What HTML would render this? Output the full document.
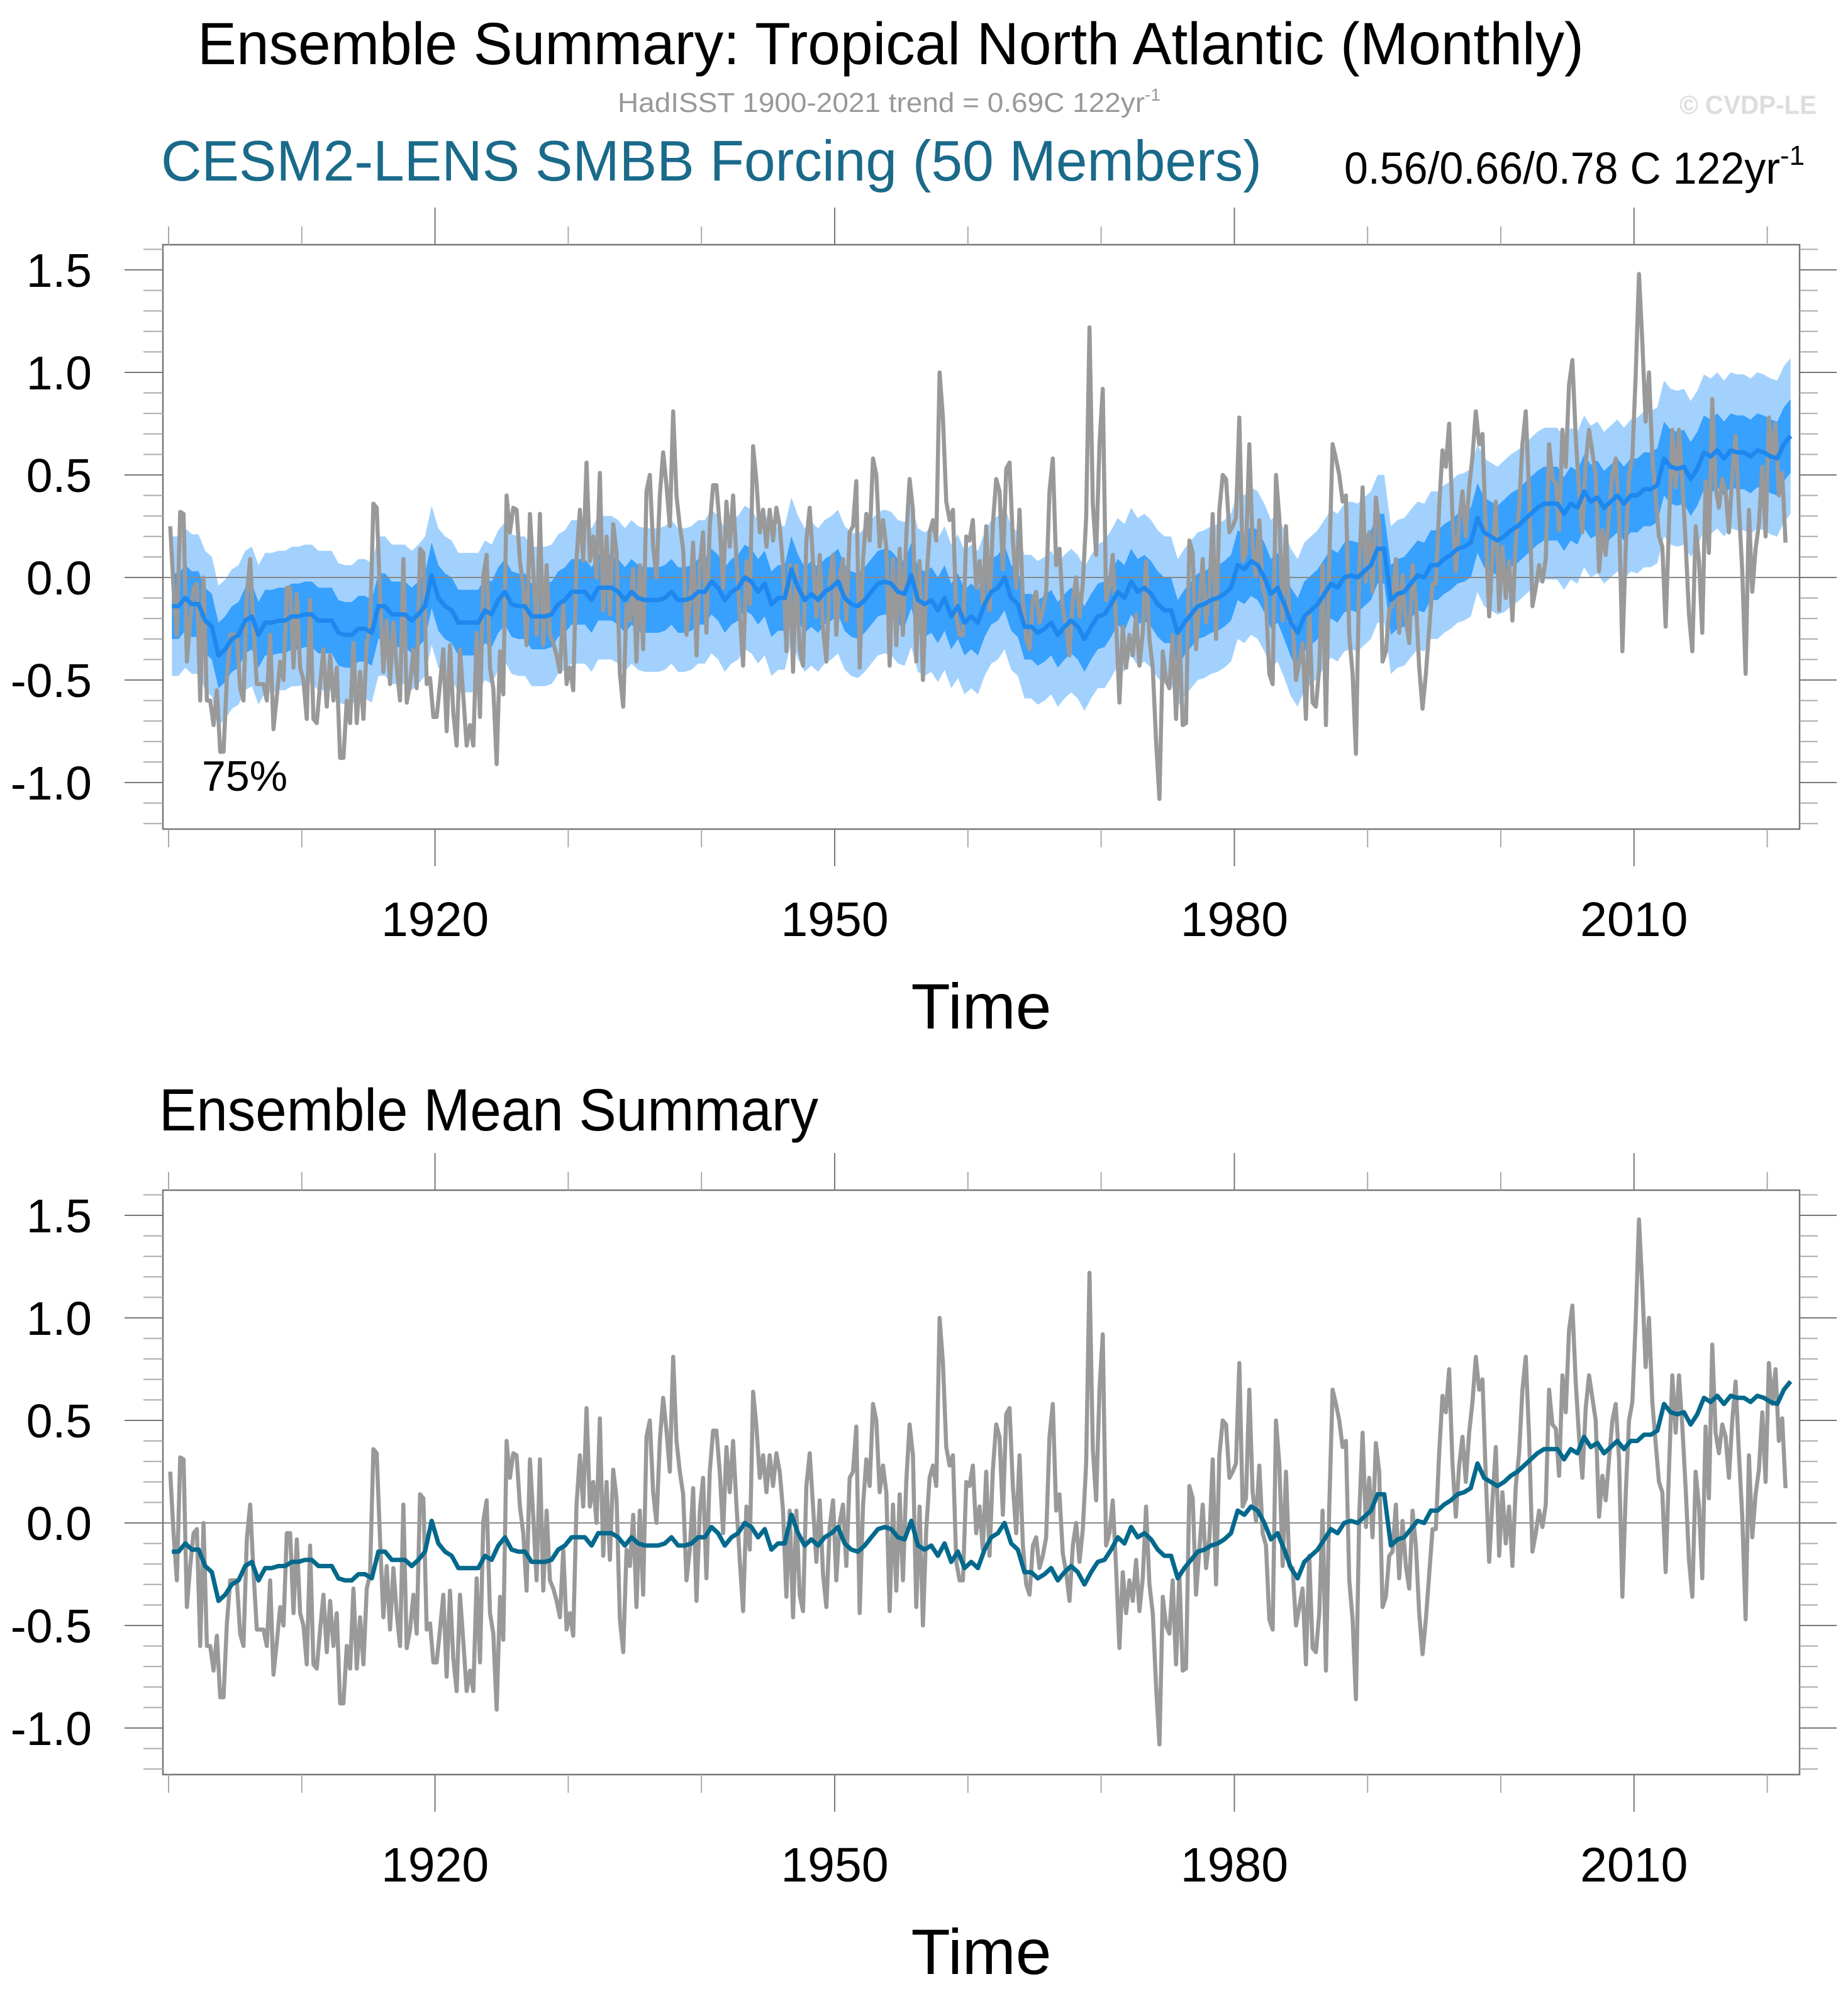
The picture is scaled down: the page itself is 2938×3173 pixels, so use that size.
<!DOCTYPE html>
<html><head><meta charset="utf-8"><style>
html,body{margin:0;padding:0;background:#fff;}
svg{display:block;font-family:"Liberation Sans",Arial,sans-serif;}
</style></head><body>
<svg id="chart" xmlns="http://www.w3.org/2000/svg" width="2938" height="3173" viewBox="0 0 2938 3173">
<rect width="2938" height="3173" fill="#fff"/>
<text x="314" y="102" font-size="95" textLength="2204" lengthAdjust="spacingAndGlyphs" fill="#000">Ensemble Summary: Tropical North Atlantic (Monthly)</text>
<text x="982" y="178" font-size="44" fill="#999"><tspan textLength="838" lengthAdjust="spacingAndGlyphs">HadISST 1900-2021 trend = 0.69C 122yr</tspan><tspan font-size="28" dy="-18">-1</tspan></text>
<text x="2670" y="181" font-size="42" font-weight="bold" fill="#ddd" textLength="218" lengthAdjust="spacingAndGlyphs">© CVDP-LE</text>
<text x="256" y="287" font-size="91" fill="#1a6a8a" textLength="1750" lengthAdjust="spacingAndGlyphs">CESM2-LENS SMBB Forcing (50 Members)</text>
<text x="2137" y="292" font-size="71" fill="#000"><tspan textLength="693" lengthAdjust="spacingAndGlyphs">0.56/0.66/0.78 C 122yr</tspan><tspan font-size="44" dy="-30">-1</tspan></text>
<text x="321" y="1257" font-size="68" fill="#000">75%</text>
<text x="1560" y="1635" font-size="102" text-anchor="middle" fill="#000">Time</text>
<text x="253" y="1797" font-size="95" fill="#000" textLength="1048" lengthAdjust="spacingAndGlyphs">Ensemble Mean Summary</text>
<text x="1560" y="3138" font-size="102" text-anchor="middle" fill="#000">Time</text>
<g id="layer"></g>
</svg>
<script>
// Observed HadISST quarterly values (1900 Q1 ...)
const obsValues = [
0.25,-0.05,-0.28,0.32, 0.31,-0.41,-0.21,-0.05, -0.03,-0.60,0.0,-0.60, -0.60,-0.72,-0.55,-0.85, -0.85,-0.49,-0.28,-0.28,
-0.28,-0.54,-0.60,-0.08, 0.09,-0.24,-0.52,-0.52, -0.52,-0.60,-0.28,-0.74, -0.58,-0.41,-0.50,-0.05, -0.05,-0.44,-0.08,-0.44,
-0.50,-0.69,-0.11,-0.69, -0.71,-0.52,-0.35,-0.63, -0.38,-0.60,-0.44,-0.88, -0.88,-0.60,-0.71,-0.32, -0.71,-0.46,-0.69,-0.32,
-0.25,0.36,0.34,-0.08, -0.46,-0.21,-0.52,-0.22, -0.44,-0.60,0.09,-0.61, -0.52,-0.35,-0.54,0.14, 0.12,-0.52,-0.49,-0.68,
-0.68,-0.52,-0.35,-0.75, -0.33,-0.66,-0.82,-0.35, -0.58,-0.82,-0.72,-0.82, -0.27,-0.68,0.01,0.11, -0.44,-0.54,-0.91,-0.36,
-0.57,0.40,0.22,0.34, 0.33,0.08,-0.05,-0.33, 0.31,0.03,-0.28,0.31, -0.33,0.06,-0.28,-0.32, -0.38,-0.46,-0.13,-0.52,
-0.44,-0.55,0.09,0.33, 0.08,0.56,0.08,0.20, 0.0,0.51,-0.16,0.20, -0.18,0.26,0.12,-0.47, -0.63,-0.13,-0.21,0.04,
-0.41,0.06,-0.35,0.42, 0.50,0.15,0.0,0.40, 0.61,0.45,0.25,0.81, 0.40,0.25,0.14,-0.28, -0.13,0.17,-0.38,0.06,
0.22,-0.27,0.25,0.45, 0.45,0.25,-0.05,0.37, 0.15,0.40,0.09,-0.18, -0.43,0.08,-0.13,0.64, 0.47,0.22,0.33,0.15,
0.33,0.18,0.34,0.25, 0.06,-0.36,0.06,-0.46, 0.06,-0.35,-0.43,0.18, 0.34,0.08,-0.19,0.11, -0.25,-0.41,-0.02,0.11,
-0.28,0.0,0.09,-0.21, 0.22,0.25,0.47,-0.44, 0.08,0.31,0.18,0.58, 0.50,0.15,0.28,0.15, -0.43,0.09,-0.33,0.14,
-0.28,0.20,0.48,0.33, -0.41,0.08,-0.50,-0.03, 0.22,0.28,0.18,1.0, 0.78,0.37,0.28,0.33, -0.19,-0.28,-0.28,0.20,
0.18,0.28,-0.05,0.08, -0.13,0.25,-0.16,0.26, 0.48,0.42,0.04,0.53, 0.56,0.18,-0.05,0.33, -0.11,-0.30,-0.35,-0.11,
-0.07,-0.22,-0.16,-0.07, 0.42,0.58,0.06,0.14, -0.15,-0.24,-0.38,-0.11, 0.0,-0.19,-0.03,0.29, 1.22,0.36,0.11,0.65,
0.92,-0.11,-0.05,0.11, -0.22,-0.61,-0.24,-0.44, -0.28,-0.38,-0.18,-0.43, -0.27,0.08,-0.30,-0.44, -0.80,-1.08,-0.36,-0.50,
-0.54,-0.28,-0.69,-0.25, -0.72,-0.71,0.18,0.12, -0.35,-0.13,0.09,-0.22, -0.08,0.31,-0.30,0.33, 0.50,0.48,0.22,0.25,
0.29,0.78,0.08,0.12, 0.65,0.15,0.01,0.28, -0.05,-0.11,-0.47,-0.52, 0.50,0.29,-0.21,0.25, -0.21,-0.22,-0.50,-0.41,
-0.32,-0.69,-0.16,-0.61, -0.63,-0.44,0.06,-0.72, 0.08,0.65,0.58,0.50, 0.37,0.40,-0.28,-0.47, -0.86,0.04,0.44,-0.02,
0.22,-0.07,0.39,0.25, -0.41,-0.36,-0.16,-0.14, 0.09,-0.27,0.01,-0.21, -0.32,0.06,-0.11,-0.44, -0.64,-0.47,-0.25,-0.03,
-0.03,0.34,0.62,0.54, 0.75,0.29,0.03,0.28, 0.42,0.20,0.44,0.59, 0.81,0.65,0.70,0.22, -0.19,0.11,0.37,-0.16,
0.15,-0.10,0.08,-0.21, 0.18,0.34,0.65,0.81, 0.42,-0.14,-0.05,0.06, -0.02,0.09,0.65,0.48, 0.46,0.23,0.72,0.54,
0.94,1.06,0.69,0.42, 0.22,0.56,0.72,0.61, 0.50,0.03,0.23,0.11, 0.31,0.50,0.58,0.31, -0.36,0.14,0.50,0.59,
0.98,1.48,1.15,0.76, 1.0,0.59,0.39,0.20, 0.15,-0.24,0.26,0.72, 0.44,0.72,0.47,0.17, -0.18,-0.36,0.25,0.08,
-0.27,0.47,0.12,0.87, 0.44,0.34,0.48,0.42, 0.22,0.50,0.69,0.34, 0.03,-0.47,0.33,-0.07, 0.14,0.26,0.54,0.20,
0.78,0.58,0.75,0.40, 0.51,0.17
];
// Ensemble mean, half-yearly values (1900 H1 ...)
const meanValues = [
-0.14,-0.14,-0.10,-0.13,-0.13,-0.21,-0.24,-0.38,-0.35,-0.30,-0.28,-0.21,-0.19,-0.28,-0.22,-0.22,-0.21,-0.21,-0.19,-0.19,
-0.18,-0.18,-0.21,-0.21,-0.21,-0.27,-0.28,-0.28,-0.25,-0.25,-0.27,-0.14,-0.14,-0.18,-0.18,-0.18,-0.21,-0.18,-0.14,0.01,
-0.10,-0.14,-0.16,-0.22,-0.22,-0.22,-0.22,-0.16,-0.18,-0.11,-0.07,-0.13,-0.14,-0.14,-0.19,-0.19,-0.19,-0.18,-0.13,-0.11,
-0.07,-0.07,-0.07,-0.11,-0.05,-0.05,-0.05,-0.07,-0.11,-0.07,-0.10,-0.11,-0.11,-0.11,-0.10,-0.07,-0.11,-0.11,-0.10,-0.07,
-0.07,-0.02,-0.05,-0.11,-0.07,-0.05,0.0,-0.02,-0.07,-0.03,-0.13,-0.10,-0.10,0.04,-0.05,-0.11,-0.08,-0.11,-0.07,-0.05,
-0.02,-0.10,-0.13,-0.14,-0.11,-0.07,-0.03,-0.02,-0.03,-0.07,-0.08,0.01,-0.11,-0.13,-0.11,-0.16,-0.10,-0.19,-0.14,-0.22,
-0.19,-0.22,-0.13,-0.07,-0.05,0.0,-0.10,-0.13,-0.24,-0.24,-0.27,-0.25,-0.22,-0.28,-0.24,-0.21,-0.24,-0.30,-0.24,-0.19,
-0.18,-0.13,-0.07,-0.10,-0.02,-0.07,-0.05,-0.08,-0.13,-0.16,-0.16,-0.27,-0.22,-0.18,-0.14,-0.13,-0.11,-0.10,-0.08,-0.05,
0.06,0.04,0.08,0.06,0.0,-0.08,-0.05,-0.13,-0.22,-0.27,-0.19,-0.16,-0.13,-0.08,-0.03,-0.05,0.0,0.01,0.0,0.03,
0.06,0.14,0.14,-0.11,-0.08,-0.07,-0.03,0.01,0.0,0.06,0.06,0.09,0.11,0.14,0.15,0.17,0.29,0.22,0.20,0.18,
0.20,0.23,0.25,0.28,0.31,0.34,0.36,0.36,0.36,0.31,0.36,0.34,0.42,0.37,0.39,0.34,0.37,0.40,0.36,0.40,
0.40,0.43,0.43,0.45,0.58,0.54,0.53,0.54,0.48,0.53,0.61,0.59,0.62,0.58,0.62,0.61,0.61,0.59,0.62,0.61,
0.59,0.58,0.65,0.69
];
// Ensemble spread half-widths per decade (1900s ... 2020s)
const innerHalf = [0.16,0.16,0.16,0.16,0.16,0.16,0.16,0.16,0.17,0.17,0.18,0.18,0.18];
const outerHalf = [0.34,0.34,0.34,0.35,0.35,0.35,0.35,0.36,0.36,0.36,0.37,0.38,0.38];
const yTickLabels = ["-1.0","-0.5","0.0","0.5","1.0","1.5"];
const yTickValues = [-1.0,-0.5,0.0,0.5,1.0,1.5];
const xTickLabels = ["1920","1950","1980","2010"];
const xTickYears = [1920,1950,1980,2010];

const NS="http://www.w3.org/2000/svg";
const layer=document.getElementById('layer');
const X0=268, PXYR=21.18, LEFT=259, RIGHT=2861;
function xOf(yr){return X0+(yr-1900)*PXYR;}
function mk(tag,attrs,parent){const e=document.createElementNS(NS,tag);for(const k in attrs)e.setAttribute(k,attrs[k]);(parent||layer).appendChild(e);return e;}
function obsYear(i){return 1900+i*0.25+0.125;}
function meanYear(i){return 1900+i*0.5+0.25;}
function halfAt(arr,yr){return arr[Math.min(arr.length-1,Math.floor((yr-1900)/10))];}

function drawPlot(off, withBands, meanColor, idx){
  const top=389+off, bot=1318+off, y0=918+off, PPU=326;
  const yOf=v=>y0-v*PPU;
  const g=mk('g',{});
  
  
  const cid='clip'+idx;
  const cp=mk('clipPath',{id:cid},g); mk('rect',{x:LEFT,y:top,width:RIGHT-LEFT,height:bot-top},cp);
  const dg=mk('g',{'clip-path':'url(#'+cid+')'},g);
  if(withBands){
    const up=[],lo=[],iu=[],il=[];
    meanValues.forEach((m,i)=>{const yr=meanYear(i);const x=xOf(yr).toFixed(1);
      up.push(x+','+yOf(m+halfAt(outerHalf,yr)).toFixed(1));lo.unshift(x+','+yOf(m-halfAt(outerHalf,yr)).toFixed(1));
      iu.push(x+','+yOf(m+halfAt(innerHalf,yr)).toFixed(1));il.unshift(x+','+yOf(m-halfAt(innerHalf,yr)).toFixed(1));});
    const ob=mk('polygon',{points:up.concat(lo).join(' '),fill:'#a2d1fd'},dg);
    
    
    const ib=mk('polygon',{points:iu.concat(il).join(' '),fill:'#38a0fd'},dg);
    
    
  }
  const zl=mk('line',{x1:LEFT,x2:RIGHT,y1:y0,y2:y0,stroke:'#888','stroke-width':2},dg);
  
  
  const op=obsValues.map((v,i)=>xOf(obsYear(i)).toFixed(1)+','+yOf(v).toFixed(1)).join(' ');
  const ol=mk('polyline',{points:op,fill:'none',stroke:'#999','stroke-width':6.5,'stroke-linejoin':'round'},dg);
  
  
  const mp=meanValues.map((v,i)=>xOf(meanYear(i)).toFixed(1)+','+yOf(v).toFixed(1)).join(' ');
  const ml=mk('polyline',{points:mp,fill:'none',stroke:meanColor,'stroke-width':7,'stroke-linejoin':'round'},dg);
  
  
  const fr=mk('rect',{x:LEFT,y:top,width:RIGHT-LEFT,height:bot-top,fill:'none',stroke:'#777','stroke-width':2.5},g);
  
  
  for(let k=-12;k<=16;k++){const v=k/10;const y=yOf(v);const major=(k%5===0);
    mk('line',{x1:major?198:228,x2:LEFT,y1:y,y2:y,stroke:major?'#777':'#aaa','stroke-width':2},g);
    mk('line',{x1:RIGHT,x2:major?2920:2890,y1:y,y2:y,stroke:major?'#777':'#aaa','stroke-width':2},g);}
  yTickValues.forEach((v,i)=>{const t=mk('text',{x:146,y:yOf(v)+27,'font-size':75,'text-anchor':'end',fill:'#000'},g);
    t.textContent=yTickLabels[i];
    
    });
  for(let yr=1900;yr<=2020;yr+=10){const x=xOf(yr);const major=xTickYears.indexOf(yr)>=0;
    mk('line',{x1:x,x2:x,y1:top,y2:top-(major?59:29),stroke:major?'#777':'#aaa','stroke-width':2},g);
    mk('line',{x1:x,x2:x,y1:bot,y2:bot+(major?59:29),stroke:major?'#777':'#aaa','stroke-width':2},g);}
  xTickYears.forEach((yr,i)=>{const t=mk('text',{x:xOf(yr),y:1488+off,'font-size':77,'text-anchor':'middle',fill:'#000'},g);
    t.textContent=xTickLabels[i];
    
    });
}
drawPlot(0,true,'#1e88ee',1);
drawPlot(1503,false,'#04698c',2);
</script>
</body></html>
